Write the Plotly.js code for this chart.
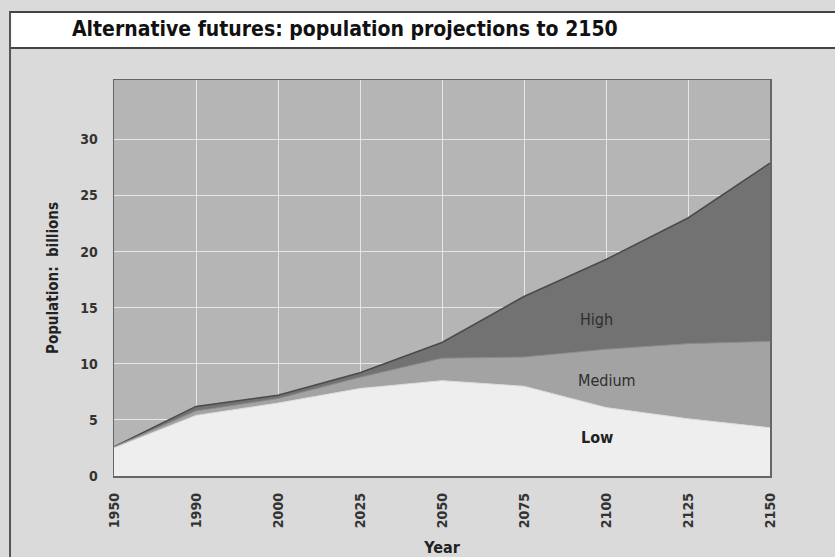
<!DOCTYPE html>
<html>
<head>
<meta charset="utf-8">
<script src="https://cdn.plot.ly/plotly-3.0.1.min.js"></script>
<style>
html,body{margin:0;padding:0;background:#dadada;}
#chart{width:835px;height:557px;}
</style>
</head>
<body>
<div id="chart"></div>
<script>
var years = ['1950','1990','2000','2025','2050','2075','2100','2125','2150'];
var lowSeries = [2.5, 5.4, 6.5, 7.8, 8.5, 8.0, 6.1, 5.1, 4.3];
var mediumSeries = [2.6, 5.8, 6.9, 8.8, 10.5, 10.6, 11.3, 11.8, 12.0];
var highSeries = [2.6, 6.2, 7.2, 9.2, 11.9, 16.0, 19.3, 23.0, 27.9];
var scenarioLabels = ['High', 'Medium', 'Low'];

var FONT = '"Liberation Sans Narrow", "DejaVu Sans Condensed", "Arial Narrow", sans-serif';

var traces = [
  {x: years, y: highSeries, type: 'scatter', mode: 'lines', fill: 'tozeroy',
   fillcolor: '#727272', line: {color: '#4a4a4a', width: 1.5}, name: 'High', hoverinfo: 'skip'},
  {x: years, y: mediumSeries, type: 'scatter', mode: 'lines', fill: 'tozeroy',
   fillcolor: '#a3a3a3', line: {color: '#8c8c8c', width: 1}, name: 'Medium', hoverinfo: 'skip'},
  {x: years, y: lowSeries, type: 'scatter', mode: 'lines', fill: 'tozeroy',
   fillcolor: '#eeeeee', line: {color: '#dddddd', width: 1}, name: 'Low', hoverinfo: 'skip'}
];

var layout = {
  width: 835, height: 557,
  margin: {l: 114, r: 65, t: 80, b: 81},
  paper_bgcolor: '#dadada',
  plot_bgcolor: '#b5b5b5',
  showlegend: false,
  font: {family: FONT, color: '#333333'},
  title: {
    text: '<b>Alternative futures: population projections to 2150</b>',
    font: {family: FONT, size: 21, color: '#111111'},
    x: 0.413, xanchor: 'center', xref: 'container',
    y: 0.948, yanchor: 'middle', yref: 'container'
  },
  xaxis: {
    type: 'category',
    range: [0, 8],
    tickangle: -90,
    ticks: '',
    ticklabelstandoff: 10,
    tickfont: {family: FONT, size: 14, color: '#333333', weight: 'bold'},
    showgrid: true, gridcolor: '#e6e6e6', gridwidth: 1,
    showline: true, linecolor: '#666666', linewidth: 1.5, mirror: true,
    zeroline: false,
    title: {text: '<b>Year</b>', font: {family: FONT, size: 16, color: '#222222'}, standoff: 14}
  },
  yaxis: {
    range: [0, 35.3],
    tickvals: [0, 5, 10, 15, 20, 25, 30],
    ticks: '',
    ticklabelstandoff: 12,
    tickfont: {family: FONT, size: 14, color: '#333333', weight: 'bold'},
    showgrid: true, gridcolor: '#e6e6e6', gridwidth: 1,
    showline: true, linecolor: '#666666', linewidth: 1.5, mirror: true,
    zeroline: false,
    title: {text: '<b>Population:  billions</b>', font: {family: FONT, size: 15, color: '#222222'}, standoff: 18}
  },
  shapes: [
    {type: 'rect', xref: 'paper', yref: 'paper', x0: -0.1585, x1: 1.12, y0: 1.0808, y1: 1.1717,
     fillcolor: '#ffffff', line: {color: '#444444', width: 2}, layer: 'below'},
    {type: 'line', xref: 'paper', yref: 'paper', x0: -0.1585, x1: -0.1585, y0: 1.1717, y1: -0.22,
     line: {color: '#555555', width: 2}, layer: 'below'}
  ],
  annotations: [
    {text: scenarioLabels[0], xref: 'paper', yref: 'paper', x: 0.736, y: 0.394, showarrow: false,
     xanchor: 'center', yanchor: 'middle',
     font: {family: FONT, size: 16, color: '#2e2e2e'}},
    {text: scenarioLabels[1], xref: 'paper', yref: 'paper', x: 0.752, y: 0.242, showarrow: false,
     xanchor: 'center', yanchor: 'middle',
     font: {family: FONT, size: 16, color: '#2e2e2e'}},
    {text: '<b>' + scenarioLabels[2] + '</b>', xref: 'paper', yref: 'paper', x: 0.736, y: 0.096, showarrow: false,
     xanchor: 'center', yanchor: 'middle',
     font: {family: FONT, size: 16, color: '#222222'}}
  ]
};

Plotly.newPlot('chart', traces, layout, {staticPlot: true, displayModeBar: false});
</script>
</body>
</html>
